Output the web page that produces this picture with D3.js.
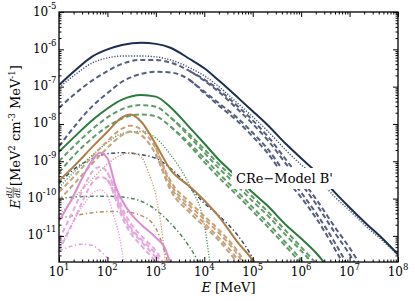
<!DOCTYPE html>
<html>
<head>
<meta charset="utf-8">
<script src="https://cdn.jsdelivr.net/npm/d3@7"></script>
<style>
  body { margin: 0; background: #fff; }
  text { font-family: "DejaVu Serif", serif; fill: #000; }
</style>
</head>
<body>
<svg id="chart" width="415" height="301"></svg>
<script>
// E [MeV] vs E dU/dE [MeV^2 cm^-3 MeV^-1]

// navy family
const navyTotal = [[1e1,1.1e-7],[2e1,2.5e-7],[5e1,6.6e-7],[1e2,1.0e-6],[2e2,1.3e-6],[5e2,1.5e-6],[1e3,1.4e-6],[2e3,1.1e-6],[5e3,5.5e-7],[1e4,3.1e-7],[2e4,1.45e-7],[5e4,5.0e-8],[1e5,2.2e-8],[2e5,9.5e-9],[5e5,2.8e-9],[1e6,1.2e-9],[2e6,5.3e-10],[5e6,1.45e-10],[1e7,5.8e-11],[2e7,2.4e-11],[5e7,8e-12],[1e8,3.2e-12]];
const navyDotted = [[1e1,9.5e-8],[2e1,1.95e-7],[5e1,4.4e-7],[1e2,5.9e-7],[2e2,6.6e-7],[5e2,6.6e-7],[1e3,6.3e-7],[2e3,5.2e-7],[5e3,3.2e-7],[1e4,1.95e-7],[2e4,1.0e-7],[5e4,3.5e-8],[1e5,1.55e-8],[2e5,6.6e-9],[5e5,1.9e-9],[1e6,8.1e-10],[2e6,3.9e-10],[5e6,1.1e-10],[1e7,4.8e-11],[2e7,2.0e-11],[5e7,7.1e-12],[1e8,3.0e-12]];
const navyDashA1 = [[1e1,2.7e-8],[2e1,6e-8],[5e1,1.5e-7],[1e2,2.6e-7],[2e2,4.1e-7],[5e2,5.2e-7],[1e3,5.2e-7],[2e3,4.4e-7],[5e3,2.6e-7],[1e4,1.45e-7],[2e4,7.2e-8],[5e4,2.4e-8],[1e5,1.0e-8],[2e5,3.8e-9],[5e5,8.1e-10],[1e6,2.5e-10],[2e6,7.4e-11],[5e6,1.2e-11],[1e7,3.2e-12],[2e7,6.8e-13]];
const navyDashA2 = [[5e3,2.6e-7],[1e4,1.55e-7],[2e4,8.2e-8],[5e4,2.9e-8],[1e5,1.25e-8],[2e5,4.8e-9],[5e5,1.05e-9],[1e6,3.3e-10],[2e6,1.0e-10],[5e6,1.7e-11],[1e7,4.8e-12],[2e7,1.1e-12]];
const navyDashB1 = [[1e1,2.5e-9],[2e1,8e-9],[5e1,3.1e-8],[1e2,6.7e-8],[2e2,1.35e-7],[5e2,2.2e-7],[1e3,2.5e-7],[2e3,2.4e-7],[5e3,1.5e-7],[1e4,6.7e-8],[2e4,3.1e-8],[5e4,1.15e-8],[1e5,4.6e-9],[2e5,1.7e-9],[5e5,3.2e-10],[1e6,1.07e-10],[2e6,3.1e-11],[5e6,4.4e-12],[1e7,9e-13]];
const navyDashB2 = [[5e3,1.5e-7],[1e4,7.4e-8],[2e4,3.6e-8],[5e4,1.4e-8],[1e5,5.8e-9],[2e5,2.2e-9],[5e5,4.3e-10],[1e6,1.45e-10],[2e6,4.2e-11],[5e6,6.5e-12],[1e7,1.3e-12]];
const navyDashDot = [[1e1,2.5e-10],[2e1,6e-10],[5e1,1.2e-9],[1e2,1.6e-9],[2e2,1.7e-9],[5e2,1.5e-9],[1e3,1.2e-9],[2e3,6.5e-10],[5e3,2.0e-10],[1e4,7.5e-11],[2e4,3.5e-11],[5e4,1.0e-11],[1e5,2.5e-12],[1.3e5,1.2e-12]];

// green family
const greenTotal = [[1e1,1.8e-9],[2e1,4.3e-9],[5e1,1.3e-8],[1e2,2.6e-8],[2e2,4.5e-8],[5e2,6e-8],[1e3,5.4e-8],[2e3,2.8e-8],[5e3,8e-9],[1e4,3e-9],[2e4,1.1e-9],[5e4,3.6e-10],[1e5,1.45e-10],[2e5,6.5e-11],[5e5,1.9e-11],[1e6,8.5e-12],[2e6,3.6e-12],[4e6,1.2e-12]];
const greenDashA1 = [[1e1,1.0e-9],[2e1,2.5e-9],[5e1,7.5e-9],[1e2,1.5e-8],[2e2,2.5e-8],[5e2,3.2e-8],[1e3,2.9e-8],[2e3,1.5e-8],[5e3,4.5e-9],[1e4,1.7e-9],[2e4,6.5e-10],[5e4,2.1e-10],[1e5,8.5e-11],[2e5,3.6e-11],[5e5,1.0e-11],[1e6,4.0e-12],[2e6,1.5e-12]];
const greenDashA2 = [[2e3,1.5e-8],[5e3,5.2e-9],[1e4,2.1e-9],[2e4,8.4e-10],[5e4,2.7e-10],[1e5,1.1e-10],[2e5,4.6e-11],[5e5,1.3e-11],[1e6,5e-12],[2e6,1.9e-12]];
const greenDashB1 = [[1e1,5e-10],[2e1,1.4e-9],[5e1,4.3e-9],[1e2,8.5e-9],[2e2,1.4e-8],[5e2,1.8e-8],[1e3,1.6e-8],[2e3,8.5e-9],[5e3,2.6e-9],[1e4,9.5e-10],[2e4,3.7e-10],[5e4,1.15e-10],[1e5,4.6e-11],[2e5,1.8e-11],[5e5,5e-12],[1e6,1.8e-12]];
const greenDashB2 = [[2e3,8.5e-9],[5e3,3e-9],[1e4,1.2e-9],[2e4,4.7e-10],[5e4,1.45e-10],[1e5,5.8e-11],[2e5,2.3e-11],[5e5,6.3e-12],[1e6,2.3e-12],[1.5e6,1.2e-12]];
const greenDotted = [[1e1,2e-10],[2e1,5e-10],[5e1,1.5e-9],[1e2,3.2e-9],[2e2,5.5e-9],[5e2,6.3e-9],[1e3,4.2e-9],[2e3,1.5e-9],[5e3,2.2e-10],[1e4,2.0e-11],[1.3e4,2e-12]];
const greenDashDot = [[1e1,1.0e-10],[2e1,1.1e-10],[5e1,1.15e-10],[1e2,1.15e-10],[2e2,1.1e-10],[5e2,8.5e-11],[1e3,5e-11],[2e3,2.2e-11],[5e3,5e-12],[8e3,1.8e-12]];

// brown family
const brownTotal = [[1e1,3.0e-10],[2e1,7.2e-10],[5e1,2.5e-9],[1e2,6.2e-9],[2e2,1.5e-8],[3e2,1.8e-8],[5e2,1.15e-8],[1e3,2.8e-9],[2e3,6e-10],[5e3,2.1e-10],[1e4,8.9e-11],[2e4,3.3e-11],[5e4,6.5e-12],[1e5,2.2e-12],[1.2e5,1.5e-12]];
const brownDashA1 = [[1e1,1.5e-10],[2e1,3.8e-10],[5e1,1.4e-9],[1e2,3.5e-9],[2e2,7.5e-9],[3e2,9e-9],[5e2,7e-9],[1e3,2.2e-9],[2e3,2.5e-10],[5e3,6.5e-11],[1e4,2.8e-11],[2e4,1.2e-11],[5e4,3e-12],[7e4,1.5e-12]];
const brownDashA2 = [[1e3,2.3e-9],[2e3,3e-10],[5e3,8e-11],[1e4,3.4e-11],[2e4,1.45e-11],[5e4,3.7e-12],[8e4,1.4e-12]];
const brownDashB1 = [[1e1,9e-11],[2e1,2.4e-10],[5e1,9e-10],[1e2,2.3e-9],[2e2,5e-9],[3e2,6.3e-9],[5e2,5e-9],[1e3,1.5e-9],[2e3,1.7e-10],[5e3,4.2e-11],[1e4,1.8e-11],[2e4,7.5e-12],[5e4,1.8e-12]];
const brownDashB2 = [[1e3,1.6e-9],[2e3,2.1e-10],[5e3,5.2e-11],[1e4,2.2e-11],[2e4,9e-12],[5e4,2.2e-12],[6e4,1.5e-12]];
const brownDotted = [[1e1,3.3e-11],[2e1,1.0e-10],[5e1,3.5e-10],[1e2,8.5e-10],[2e2,1.5e-9],[3e2,1.7e-9],[5e2,1.3e-9],[7e2,5e-10],[1e3,1.2e-10],[1.4e3,8e-12],[1.6e3,1.5e-12]];
const brownDashDot = [[1e1,3e-11],[2e1,3.5e-11],[5e1,4.2e-11],[1e2,4.5e-11],[2e2,4.5e-11],[5e2,3.5e-11],[1e3,1.6e-11],[1.5e3,4e-12],[2e3,1e-12]];

// pink family
const pinkTotal = [[1e1,2.5e-11],[2e1,1.2e-10],[3e1,3.5e-10],[5e1,1.1e-9],[7e1,1.7e-9],[1e2,1.2e-9],[1.5e2,2e-10],[2e2,9e-11],[3e2,4e-11],[5e2,2.0e-11],[1e3,9e-12],[1.5e3,5e-12],[2e3,1.8e-12]];
const pinkDashA1 = [[1e1,8e-12],[2e1,5e-11],[3e1,1.6e-10],[5e1,5.5e-10],[7e1,7e-10],[1e2,5e-10],[1.5e2,1.3e-10],[2e2,4.5e-11],[3e2,1.7e-11],[5e2,8e-12],[1e3,3.2e-12],[1.5e3,1.3e-12]];
const pinkDashA2 = [[1e2,5e-10],[1.5e2,1.6e-10],[2e2,5.8e-11],[3e2,2.2e-11],[5e2,1.0e-11],[1e3,4e-12],[1.7e3,1.3e-12]];
const pinkDashB1 = [[1e1,4e-12],[2e1,2.5e-11],[3e1,8e-11],[5e1,2.8e-10],[7e1,3.8e-10],[1e2,3.2e-10],[1.5e2,9e-11],[2e2,3.2e-11],[3e2,1.2e-11],[5e2,5.5e-12],[1e3,2e-12],[1.3e3,1.2e-12]];
const pinkDashB2 = [[1e2,3.2e-10],[1.5e2,1.1e-10],[2e2,4e-11],[3e2,1.5e-11],[5e2,7e-12],[1e3,2.6e-12],[1.4e3,1.3e-12]];
const pinkDotted = [[1e1,4.5e-12],[2e1,2.5e-11],[3e1,6e-11],[5e1,1.4e-10],[7e1,1.7e-10],[1e2,1.2e-10],[1.3e2,4e-11],[1.7e2,1.2e-11],[2.2e2,2e-12],[2.5e2,8e-13]];
const pinkDashDot = [[1e1,4e-12],[2e1,5.5e-12],[3e1,6e-12],[5e1,5.5e-12],[7e1,4e-12],[1e2,2.5e-12],[1.3e2,1.2e-12]];

// axes
const xTickExps = [1, 2, 3, 4, 5, 6, 7, 8];
const yTickExps = [-5, -6, -7, -8, -9, -10, -11];
const modelLabel = "CRe\u2212Model B'";

const svg = d3.select("#chart");
const plot = { left: 59, top: 12, right: 398, bottom: 262 };

const x = d3.scaleLog().domain([1e1, 1e8]).range([plot.left, plot.right]);
const y = d3.scaleLog().domain([2e-12, 1e-5]).range([plot.bottom, plot.top]);

// line styles
const styles = {
  solid:   { w: 2.0, dash: null },
  dashed:  { w: 2.0, dash: "5,3" },
  dotted:  { w: 1.4, dash: "1.2,1.6" },
  dashdot: { w: 1.5, dash: "4,2.5,1.3,2.5" }
};
const palette = {
  navy:  { solid: "#1c2f4e", dashed: "#545f7d", dotted: "#3d4f74", dashdot: "#3a4a72" },
  green: { solid: "#2c7a3c", dashed: "#5f9d67", dotted: "#52995d", dashdot: "#4a8a56" },
  brown: { solid: "#ad7f47", dashed: "#c9a277", dotted: "#c9a072", dashdot: "#b98f5f" },
  pink:  { solid: "#da8dd1", dashed: "#e6a8de", dotted: "#e39fdb", dashdot: "#df9fd8" }
};

const curves = [
  ["navy", "dashed", navyDashB1], ["navy", "dashed", navyDashB2],
  ["navy", "dashed", navyDashA1], ["navy", "dashed", navyDashA2],
  ["navy", "dashdot", navyDashDot], ["navy", "dotted", navyDotted], ["navy", "solid", navyTotal],
  ["green", "dashed", greenDashB1], ["green", "dashed", greenDashB2],
  ["green", "dashed", greenDashA1], ["green", "dashed", greenDashA2],
  ["green", "dashdot", greenDashDot], ["green", "dotted", greenDotted], ["green", "solid", greenTotal],
  ["brown", "dashed", brownDashB1], ["brown", "dashed", brownDashB2],
  ["brown", "dashed", brownDashA1], ["brown", "dashed", brownDashA2],
  ["brown", "dashdot", brownDashDot], ["brown", "dotted", brownDotted], ["brown", "solid", brownTotal],
  ["pink", "dashed", pinkDashB1], ["pink", "dashed", pinkDashB2],
  ["pink", "dashed", pinkDashA1], ["pink", "dashed", pinkDashA2],
  ["pink", "dashdot", pinkDashDot], ["pink", "dotted", pinkDotted], ["pink", "solid", pinkTotal]
];

svg.append("clipPath").attr("id", "clip")
  .append("rect")
  .attr("x", plot.left).attr("y", plot.top)
  .attr("width", plot.right - plot.left).attr("height", plot.bottom - plot.top);

const line = d3.line()
  .x(d => x(d[0]))
  .y(d => y(d[1]))
  .curve(d3.curveMonotoneX);

const lines = svg.append("g").attr("clip-path", "url(#clip)");
curves.forEach(([fam, kind, data]) => {
  lines.append("path")
    .datum(data)
    .attr("d", line)
    .attr("fill", "none")
    .attr("stroke", palette[fam][kind])
    .attr("stroke-width", styles[kind].w)
    .attr("stroke-dasharray", styles[kind].dash);
});

// label with white box hiding the curves behind it
const boxG = svg.append("g");
const boxRect = boxG.append("rect").attr("fill", "#fff");
const boxText = boxG.append("text")
  .attr("x", 236).attr("y", 183)
  .attr("font-size", 13)
  .text(modelLabel);
const bb = boxText.node().getBBox();
boxRect.attr("x", bb.x - 4).attr("y", bb.y - 3)
  .attr("width", bb.width + 8).attr("height", bb.height + 6);

// ticks, inward on all four sides
const majorX = xTickExps.map(e => 10 ** e);
const minorX = d3.range(1, 8).flatMap(e => d3.range(2, 10).map(k => k * 10 ** e));
const majorY = yTickExps.map(e => 10 ** e);
const minorY = d3.range(-12, -5).flatMap(e => d3.range(2, 10).map(k => k * 10 ** e))
  .filter(v => v > 2e-12 && v < 1e-5);

function ticks(axisFn, scale, values, size, tx, ty) {
  svg.append("g")
    .attr("transform", `translate(${tx},${ty})`)
    .call(axisFn(scale).tickValues(values).tickSize(size).tickFormat(""))
    .call(g => g.select(".domain").remove())
    .call(g => g.selectAll("line").attr("stroke", "#000").attr("stroke-width", 1));
}
ticks(d3.axisBottom, x, majorX, -5, 0, plot.bottom);
ticks(d3.axisBottom, x, minorX, -2.5, 0, plot.bottom);
ticks(d3.axisTop, x, majorX, -5, 0, plot.top);
ticks(d3.axisTop, x, minorX, -2.5, 0, plot.top);
ticks(d3.axisLeft, y, majorY, -5, plot.left, 0);
ticks(d3.axisLeft, y, minorY, -2.5, plot.left, 0);
ticks(d3.axisRight, y, majorY, -5, plot.right, 0);
ticks(d3.axisRight, y, minorY, -2.5, plot.right, 0);

svg.append("rect")
  .attr("x", plot.left).attr("y", plot.top)
  .attr("width", plot.right - plot.left).attr("height", plot.bottom - plot.top)
  .attr("fill", "none").attr("stroke", "#000").attr("stroke-width", 1.3);

// tick labels
xTickExps.forEach(e => {
  const t = svg.append("text")
    .attr("x", x(10 ** e)).attr("y", 276)
    .attr("text-anchor", "middle").attr("font-size", 12);
  t.append("tspan").text("10");
  t.append("tspan").attr("dy", -6).attr("font-size", 8.5).text(e);
});
yTickExps.forEach(e => {
  const t = svg.append("text")
    .attr("x", 56.5).attr("y", y(10 ** e) + 3.5)
    .attr("text-anchor", "end").attr("font-size", 12);
  t.append("tspan").text("10");
  t.append("tspan").attr("dy", -7).attr("font-size", 8.5).text("-" + Math.abs(e));
});

// x axis title
const xt = svg.append("text")
  .attr("x", (plot.left + plot.right) / 2).attr("y", 292)
  .attr("text-anchor", "middle").attr("font-size", 13);
xt.append("tspan").attr("font-style", "italic").text("E");
xt.append("tspan").text(" [MeV]");

// y axis title: E dU/dE [MeV^2 cm^-3 MeV^-1]
const yg = svg.append("g")
  .attr("transform", `translate(20,${(plot.top + plot.bottom) / 2}) rotate(-90)`);
const inner = yg.append("g");
const eT = inner.append("text").attr("x", 0).attr("y", 0)
  .attr("font-size", 13).attr("font-style", "italic").text("E");
let cx = eT.node().getComputedTextLength() + 1;
const num = inner.append("text").attr("y", -8.5).attr("font-size", 7.5)
  .attr("font-style", "italic").text("dU");
const den = inner.append("text").attr("y", -0.5).attr("font-size", 7.5)
  .attr("font-style", "italic").text("dE");
const fw = Math.max(num.node().getComputedTextLength(), den.node().getComputedTextLength());
num.attr("x", cx + fw / 2).attr("text-anchor", "middle");
den.attr("x", cx + fw / 2).attr("text-anchor", "middle");
inner.append("line").attr("x1", cx).attr("x2", cx + fw)
  .attr("y1", -6.8).attr("y2", -6.8).attr("stroke", "#000").attr("stroke-width", 0.6);
cx += fw + 1;
const rest = inner.append("text").attr("x", cx).attr("y", 0).attr("font-size", 13);
rest.append("tspan").text(" [MeV");
rest.append("tspan").attr("dy", -5).attr("font-size", 8.5).text("2");
rest.append("tspan").attr("dy", 5).text(" cm");
rest.append("tspan").attr("dy", -5).attr("font-size", 8.5).text("-3");
rest.append("tspan").attr("dy", 5).text(" MeV");
rest.append("tspan").attr("dy", -5).attr("font-size", 8.5).text("-1");
rest.append("tspan").attr("dy", 5).text("]");
const total = cx + rest.node().getComputedTextLength();
inner.attr("transform", `translate(${-total / 2},0)`);
</script>
</body>
</html>
